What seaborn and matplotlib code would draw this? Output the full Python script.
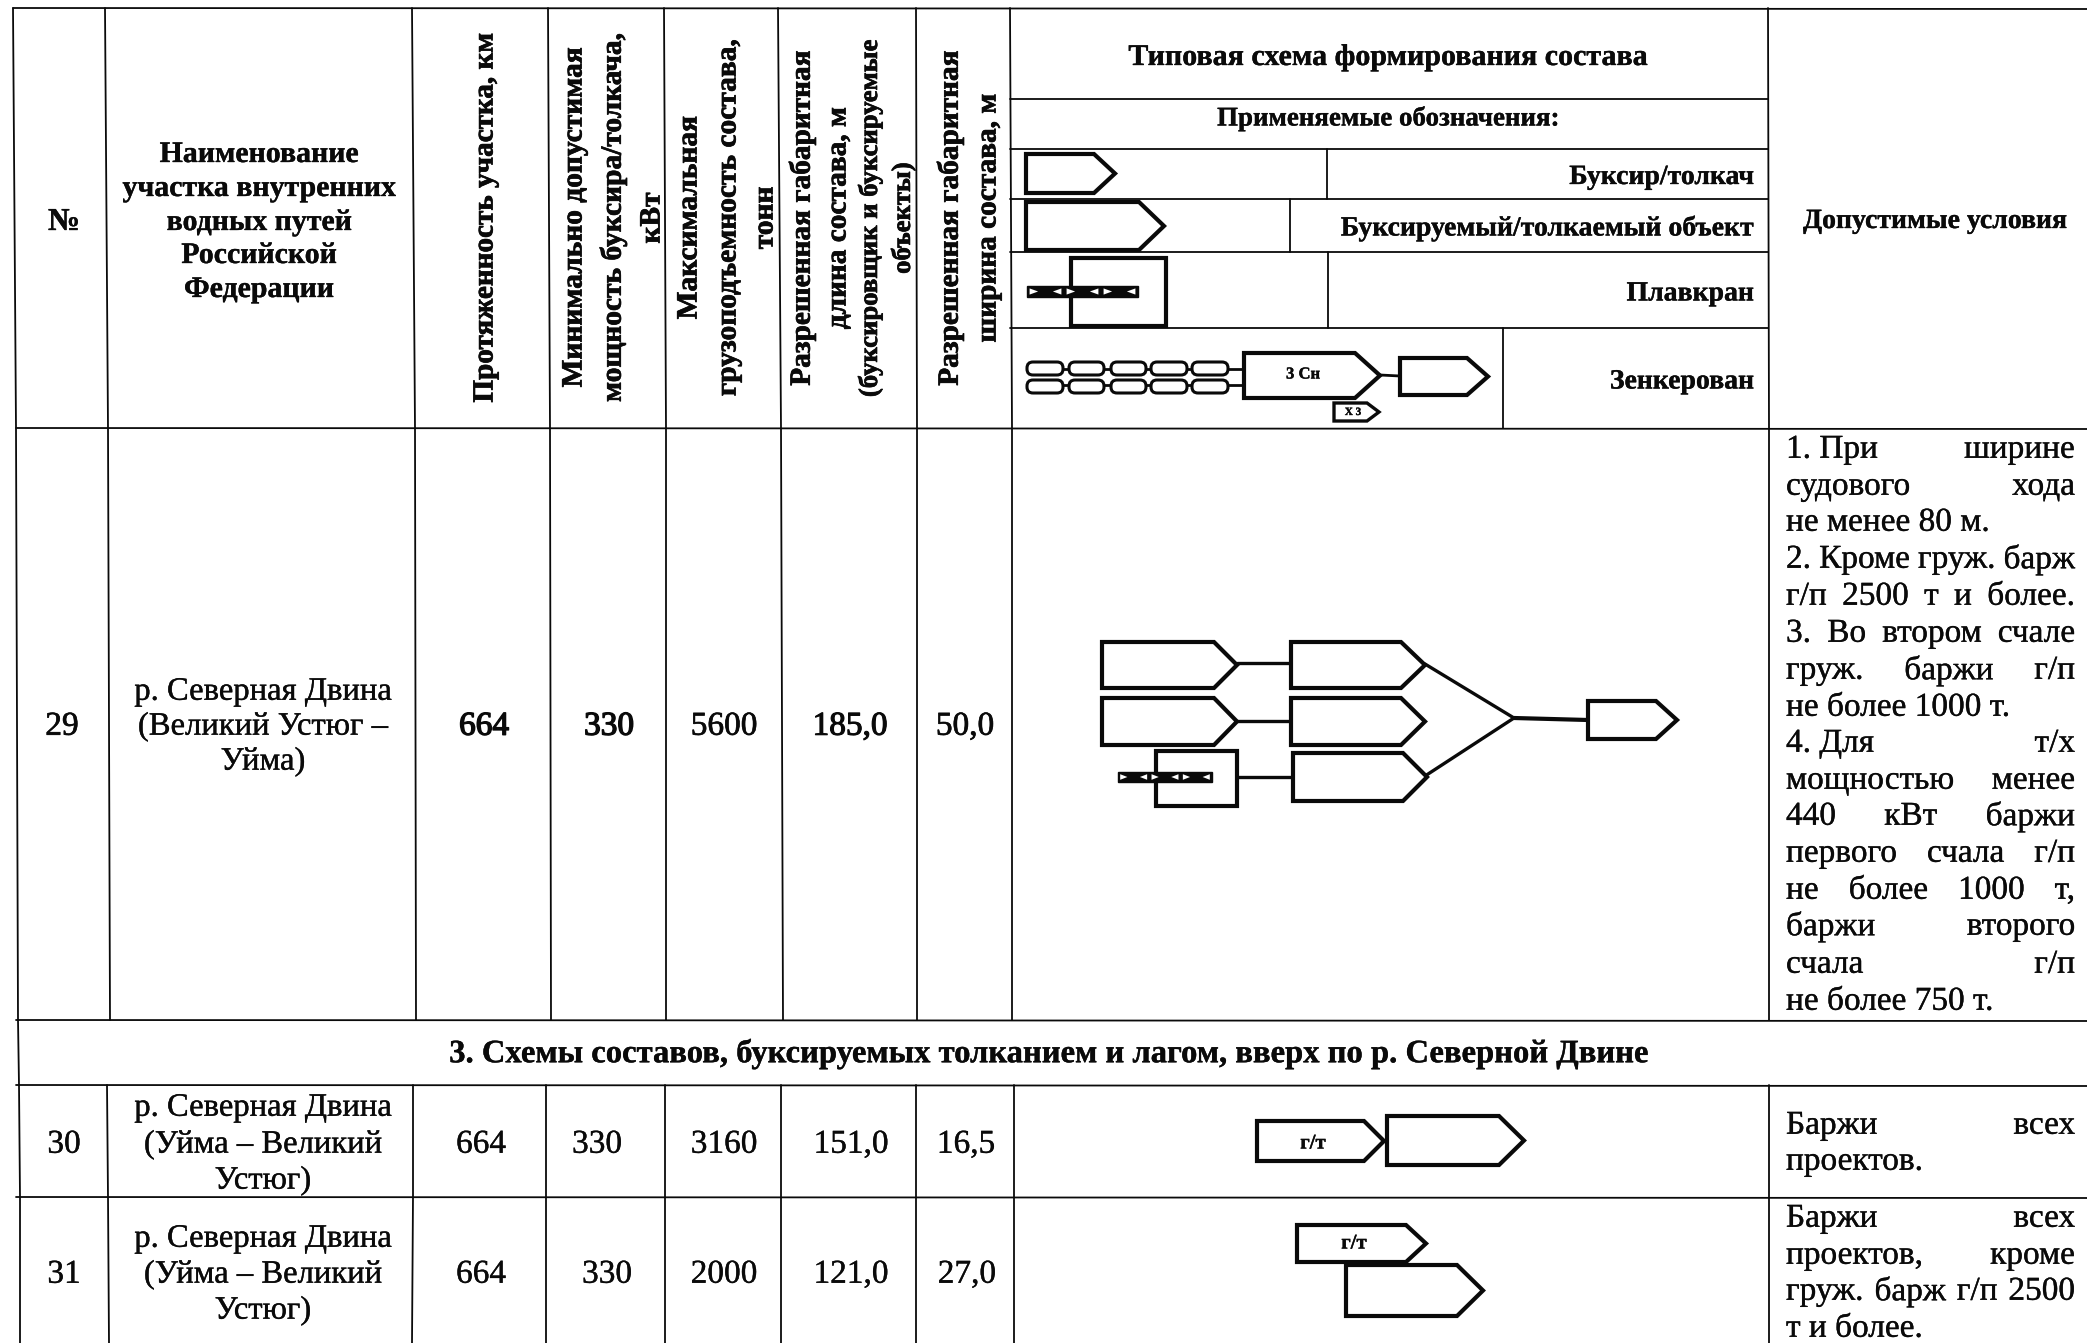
import matplotlib
matplotlib.use("Agg")
import matplotlib.pyplot as plt
import matplotlib.patheffects as pe
from matplotlib.patches import Polygon, Rectangle, FancyBboxPatch
import pandas as pd
import seaborn as sns

# ---------- table content ----------
row_numbers = ["29", "30", "31"]
row_names = [
    ["р. Северная Двина", "(Великий Устюг –", "Уйма)"],
    ["р. Северная Двина", "(Уйма – Великий", "Устюг)"],
    ["р. Северная Двина", "(Уйма – Великий", "Устюг)"],
]
lengths_km = ["664", "664", "664"]
powers_kw = ["330", "330", "330"]
capacities_t = ["5600", "3160", "2000"]
allowed_lengths_m = ["185,0", "151,0", "121,0"]
allowed_widths_m = ["50,0", "16,5", "27,0"]
name_header = ["Наименование", "участка внутренних", "водных путей", "Российской", "Федерации"]
section_title = "3. Схемы составов, буксируемых толканием и лагом, вверх по р. Северной Двине"
conditions_29 = [
    ("1.\u00a0При ширине", 1), ("судового хода", 1), ("не менее 80 м.", 0),
    ("2. Кроме груж. барж", 1), ("г/п 2500 т и более.", 1), ("3. Во втором счале", 1),
    ("груж. баржи г/п", 1), ("не более 1000 т.", 0), ("4.\u00a0Для т/х", 1),
    ("мощностью менее", 1), ("440 кВт баржи", 1), ("первого счала г/п", 1),
    ("не более 1000 т,", 1), ("баржи второго", 1), ("счала г/п", 1), ("не более 750 т.", 0),
]
conditions_30 = [("Баржи всех", 1), ("проектов.", 0)]
conditions_31 = [("Баржи всех", 1), ("проектов, кроме", 1), ("груж. барж г/п 2500", 1), ("т и более.", 0)]

# ---------- page ----------
sns.set_theme(style="white")
plt.rcParams["font.family"] = ["Liberation Serif", "DejaVu Serif"]
W, H = 2087, 1343
fig = plt.figure(figsize=(W / 100, H / 100), dpi=100, facecolor="white")
ax = fig.add_axes([0, 0, 1, 1])
ax.set_xlim(0, W)
ax.set_ylim(H, 0)
ax.axis("off")
INK = "#0a0a0a"

# ---------- table rules ----------
upper_levels = [8, 428, 1020]
lower_levels = [1085, 1197, 1343]
verticals = [
    ([13, 16, 18], [19, 20, 20]),
    ([105, 108, 110], [107, 108, 109]),
    ([412, 415, 416], [413, 413, 412]),
    ([548, 550, 551], [546, 546, 546]),
    ([664, 666, 666], [665, 665, 665]),
    ([778, 781, 783], [781, 781, 781]),
    ([916, 917, 917], [916, 916, 916]),
    ([1010, 1012, 1012], [1014, 1014, 1014]),
    ([1768, 1769, 1769], [1769, 1769, 1769]),
]
rows = []
uid = 0
for up, low in verticals:
    for xx, yy in zip(up, upper_levels):
        rows.append(dict(rule=uid, x=xx, y=yy))
    uid += 1
    for xx, yy in zip(low, lower_levels):
        rows.append(dict(rule=uid, x=xx, y=yy))
    uid += 1
# the left border also runs through the section row
rows += [dict(rule=uid, x=18, y=1020), dict(rule=uid, x=19, y=1085)]
uid += 1
for yy in [8, 428, 1020, 1085, 1197]:
    x0 = 13 if yy == 8 else 16
    rows += [dict(rule=uid, x=x0, y=yy), dict(rule=uid, x=W, y=yy + 1)]
    uid += 1
for yy in [99, 149, 199, 252, 328]:
    rows += [dict(rule=uid, x=1010, y=yy), dict(rule=uid, x=1768, y=yy)]
    uid += 1
for xx, y0, y1 in [(1327, 149, 199), (1290, 199, 252), (1328, 252, 328), (1503, 328, 428)]:
    rows += [dict(rule=uid, x=xx, y=y0), dict(rule=uid, x=xx, y=y1)]
    uid += 1
rules = pd.DataFrame(rows)
sns.lineplot(data=rules, x="x", y="y", units="rule", estimator=None, sort=False,
             color=INK, lw=1.3, legend=False, ax=ax)
ax.set_xlim(0, W)
ax.set_ylim(H, 0)
ax.axis("off")

DY = 2.5


def txt(x, y, s, size=24, bold=False, ha="center", stroke=0.25):
    t = ax.text(x, y + DY, s, fontsize=size, fontweight="bold" if bold else "normal",
                ha=ha, va="center", color=INK, zorder=5)
    if stroke:
        t.set_path_effects([pe.withStroke(linewidth=stroke, foreground=INK)])
    return t


renderer = fig.canvas.get_renderer()


def paragraph(lines, ys, left=1786, right=2075, size=24):
    for (line, just), y in zip(lines, ys):
        words = line.split(" ")
        if not just or len(words) == 1:
            txt(left, y, line, size=size, ha="left")
            continue
        items = [txt(left, y, w, size=size, ha="left") for w in words]
        widths = [t.get_window_extent(renderer).width for t in items]
        gap = (right - left - sum(widths)) / (len(words) - 1)
        x = left
        for t, w in zip(items, widths):
            t.set_x(x)
            x += w + gap


def pent(x0, shoulder, tip, y0, y1, lw=3.0):
    ym = (y0 + y1) / 2
    ax.add_patch(Polygon([(x0, y0), (shoulder, y0), (tip, ym), (shoulder, y1), (x0, y1)],
                         closed=True, fc="white", ec=INK, lw=lw, joinstyle="miter", zorder=3))


def link(*pts, lw=2.4):
    ax.plot([p[0] for p in pts], [p[1] for p in pts], color=INK, lw=lw, zorder=2)


def crane(bx0, bx1, by0, by1, cx0, cx1, cy0, cy1):
    ax.add_patch(Rectangle((bx0, by0), bx1 - bx0, by1 - by0, fc="white", ec=INK, lw=3.0, zorder=3))
    ax.add_patch(Rectangle((cx0, cy0), cx1 - cx0, cy1 - cy0, fc=INK, ec=INK, lw=1, zorder=4))
    step = (cx1 - cx0) / 3
    h = (cy1 - cy0)
    for i in range(3):
        a = cx0 + i * step
        for side in (0, 1):
            xa = a + (0.07 if side == 0 else 0.93) * step
            xb = a + (0.30 if side == 0 else 0.70) * step
            ax.add_patch(Polygon([(xa, cy0 + .22 * h), (xb, cy0 + .5 * h), (xa, cy0 + .78 * h)],
                                 closed=True, fc="white", ec="none", zorder=5))


# ---------- header ----------
txt(64, 220, "№", size=23, bold=True)
for s, y in zip(name_header, [152, 186, 220, 253, 287]):
    txt(259, y, s, size=21.5, bold=True)

v_headers = [
    (485, 218, "Протяженность участка, км", 21),
    (574, 218, "Минимально допустимая", 21.2),
    (613, 218, "мощность буксира/толкача,", 21.2),
    (652, 218, "кВт", 21.2),
    (689, 218, "Максимальная", 21.2),
    (728, 218, "грузоподъемность состава,", 21.2),
    (765, 218, "тонн", 21.2),
    (802, 218, "Разрешенная габаритная", 21.1),
    (838, 218, "длина состава, м", 21.1),
    (870, 218, "(буксировщик и буксируемые", 19.2),
    (903, 218, "объекты)", 19.2),
    (950, 218, "Разрешенная габаритная", 21.1),
    (988, 218, "ширина состава, м", 21.1),
]
for x, y, s, size in v_headers:
    vt = ax.text(x, y, s, fontsize=size, fontweight="bold", rotation=90, ha="center", va="center",
                 color=INK, zorder=5)
    vt.set_path_effects([pe.withStroke(linewidth=0.5, foreground=INK)])

txt(1388, 55, "Типовая схема формирования состава", size=21.6, bold=True)
txt(1388, 116, "Применяемые обозначения:", size=19.4, bold=True)
txt(1935, 219, "Допустимые условия", size=20, bold=True)
txt(1754, 175, "Буксир/толкач", size=20, bold=True, ha="right")
txt(1754, 226, "Буксируемый/толкаемый объект", size=20, bold=True, ha="right")
txt(1754, 291.5, "Плавкран", size=20, bold=True, ha="right")
txt(1754, 379.5, "Зенкерован", size=20, bold=True, ha="right")

# legend symbols
pent(1026, 1094, 1115, 154, 193)
pent(1026, 1139, 1164, 202, 250)
crane(1071, 1166, 258, 326, 1027, 1138, 286, 297)
oval_spans = [(1027, 1063), (1069, 1104), (1111, 1146), (1151, 1187), (1192, 1228)]
for y0, y1, yl in [(362, 375, 368.5), (380, 393, 385)]:
    link((1040, yl), (1244, yl), lw=2)
    for xa, xb in oval_spans:
        ax.add_patch(FancyBboxPatch((xa + 6, y0 + 6), xb - xa - 12, y1 - y0 - 12,
                                    boxstyle="round,pad=6,rounding_size=6",
                                    fc="white", ec=INK, lw=2.2, zorder=3))
link((1380, 375), (1400, 376), lw=2)
pent(1244, 1355, 1380, 353, 398)
txt(1303, 372, "3 Сн", size=12, bold=True)
pent(1400, 1467, 1488, 358, 395)
pent(1334, 1367, 1379, 403, 421, lw=2.4)
txt(1353, 410, "Х 3", size=8, bold=True)

# ---------- rows ----------
row_y = [724, 1142, 1272]
col_x = [[62, 484, 609, 724, 850, 965], [64, 481, 597, 724, 851, 966], [64, 481, 607, 724, 851, 967]]
heavy_row = [[0.5, 1.0, 1.0, 0.5, 0.8, 0.5], [0.25] * 6, [0.25] * 6]
name_y = [[689, 724, 759], [1105, 1142, 1178], [1236, 1272, 1308]]
for i, y in enumerate(row_y):
    vals = [row_numbers[i], lengths_km[i], powers_kw[i], capacities_t[i],
            allowed_lengths_m[i], allowed_widths_m[i]]
    for x, v, st in zip(col_x[i], vals, heavy_row[i]):
        txt(x, y, v, size=24, stroke=st)
    for s, yy in zip(row_names[i], name_y[i]):
        txt(263, yy, s, size=23.5)

txt(1049, 1051, section_title, size=23.5, bold=True)

paragraph(conditions_29, [447, 484, 520, 557, 594, 631, 668, 705, 741, 778, 814, 851, 888, 924, 962, 999])
paragraph(conditions_30, [1123, 1159])
paragraph(conditions_31, [1216, 1253, 1289, 1326])

# ---------- diagram, row 29 ----------
link((1237, 663), (1291, 663))
link((1237, 721), (1291, 721))
link((1237, 777), (1293, 777))
link((1425, 664), (1514, 718))
link((1425, 776), (1514, 718))
link((1514, 718), (1588, 720), lw=3)
pent(1102, 1214, 1237, 642, 688)
pent(1102, 1214, 1237, 698, 745)
pent(1291, 1401, 1425, 642, 688)
pent(1291, 1401, 1425, 698, 745)
pent(1293, 1403, 1427, 753, 801)
crane(1156, 1237, 751, 806, 1118, 1212, 772, 782)
pent(1588, 1656, 1677, 701, 739)

# ---------- diagrams, rows 30 and 31 ----------
pent(1257, 1364, 1384, 1121, 1161)
pent(1387, 1499, 1524, 1116, 1165)
txt(1313, 1141, "г/т", size=15, bold=True)
pent(1297, 1406, 1426, 1225, 1262)
pent(1346, 1457, 1483, 1265, 1316)
txt(1354, 1241, "г/т", size=15, bold=True)

fig.savefig("out.png", dpi=100, facecolor="white")
